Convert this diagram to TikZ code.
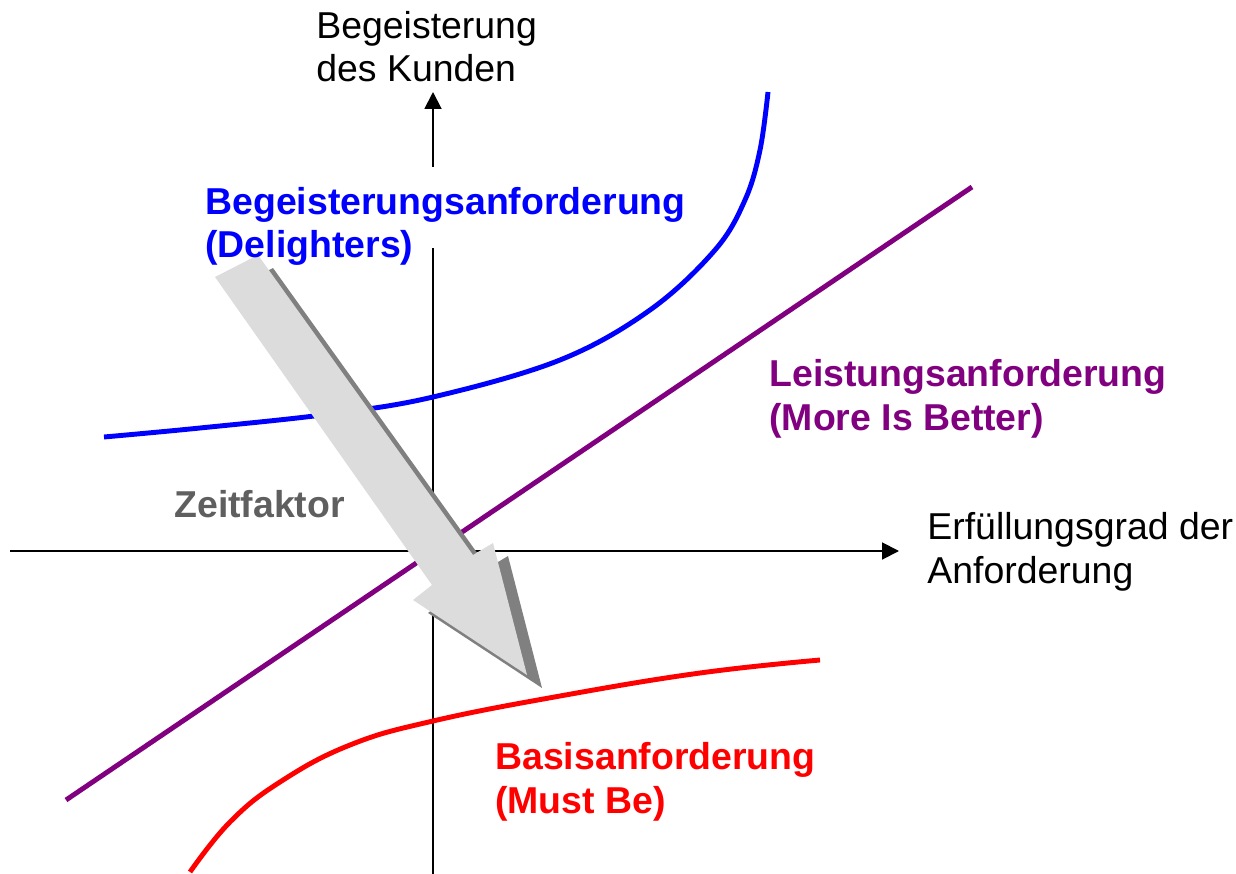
\documentclass[tikz,border=0pt]{standalone}
\usepackage{fontspec}
\setmainfont{Liberation Sans}
\usetikzlibrary{arrows.meta}

\definecolor{delightblue}{RGB}{0,0,255}
\definecolor{perfpurple}{RGB}{128,0,128}
\definecolor{basicred}{RGB}{255,0,0}
\definecolor{zeitgray}{RGB}{95,95,95}
\definecolor{arrowlight}{RGB}{220,220,220}
\definecolor{arrowdark}{RGB}{128,128,128}

\tikzset{
  lab/.style={inner sep=0pt,anchor=base west,align=left,font=\fontsize{21.3}{24.5}\selectfont},
  blab/.style={lab,font=\fontsize{21.3}{24.5}\selectfont\bfseries},
  axis/.style={line width=1.1pt,-{Triangle[length=9.6pt,width=9.6pt]}},
  curve/.style={line width=2.8pt}
}

\begin{document}
\begin{tikzpicture}[x=0.02cm,y=-0.02cm]
\useasboundingbox (0,0) rectangle (1236,874);
% axes
\coordinate (xs) at (10,551);
\coordinate (xe) at (899,551);
\coordinate (ys) at (433,874);
\coordinate (ye) at (433,92);
\draw[axis] (xs) -- (xe);
\draw[axis] (ys) -- (ye);
\fill[white] (200,167) rectangle (690,248);
% curves
\draw[curve,delightblue] plot[smooth,tension=.6] coordinates {(104,437) (200,428) (330,414) (433,397) (560,360) (650,310) (715,250) (745,200) (760,150) (768,92)};
\draw[curve,perfpurple] (66,800) -- (972,187);
\draw[curve,basicred] plot[smooth,tension=.7] coordinates {(190,872) (230,822) (280,782) (350,745) (433,721) (560,696) (700,673) (820,660)};
% Zeitfaktor arrow
\fill[arrowdark,shift={(15,13)}] (215,277) -- (258,255) -- (473,555) -- (493,543) -- (527,675) -- (413,600) -- (432,585) -- cycle;
\fill[arrowlight] (215,277) -- (258,255) -- (473,555) -- (493,543) -- (527,675) -- (413,600) -- (432,585) -- cycle;
% labels (anchored at the last line)
\node[lab] (ylab) at (316,82) {Begeisterung\\des Kunden};
\node[lab] (xlab) at (927,583) {Erfüllungsgrad der\\Anforderung};
\node[blab,delightblue] (delight) at (205,258) {Begeisterungsanforderung\\(Delighters)};
\node[blab,perfpurple] (perform) at (769,430) {Leistungsanforderung\\(More Is Better)};
\node[blab,basicred] (basic) at (495,813) {Basisanforderung\\(Must Be)};
\node[blab,zeitgray] (zeit) at (174,517) {Zeitfaktor};
\end{tikzpicture}
\end{document}
